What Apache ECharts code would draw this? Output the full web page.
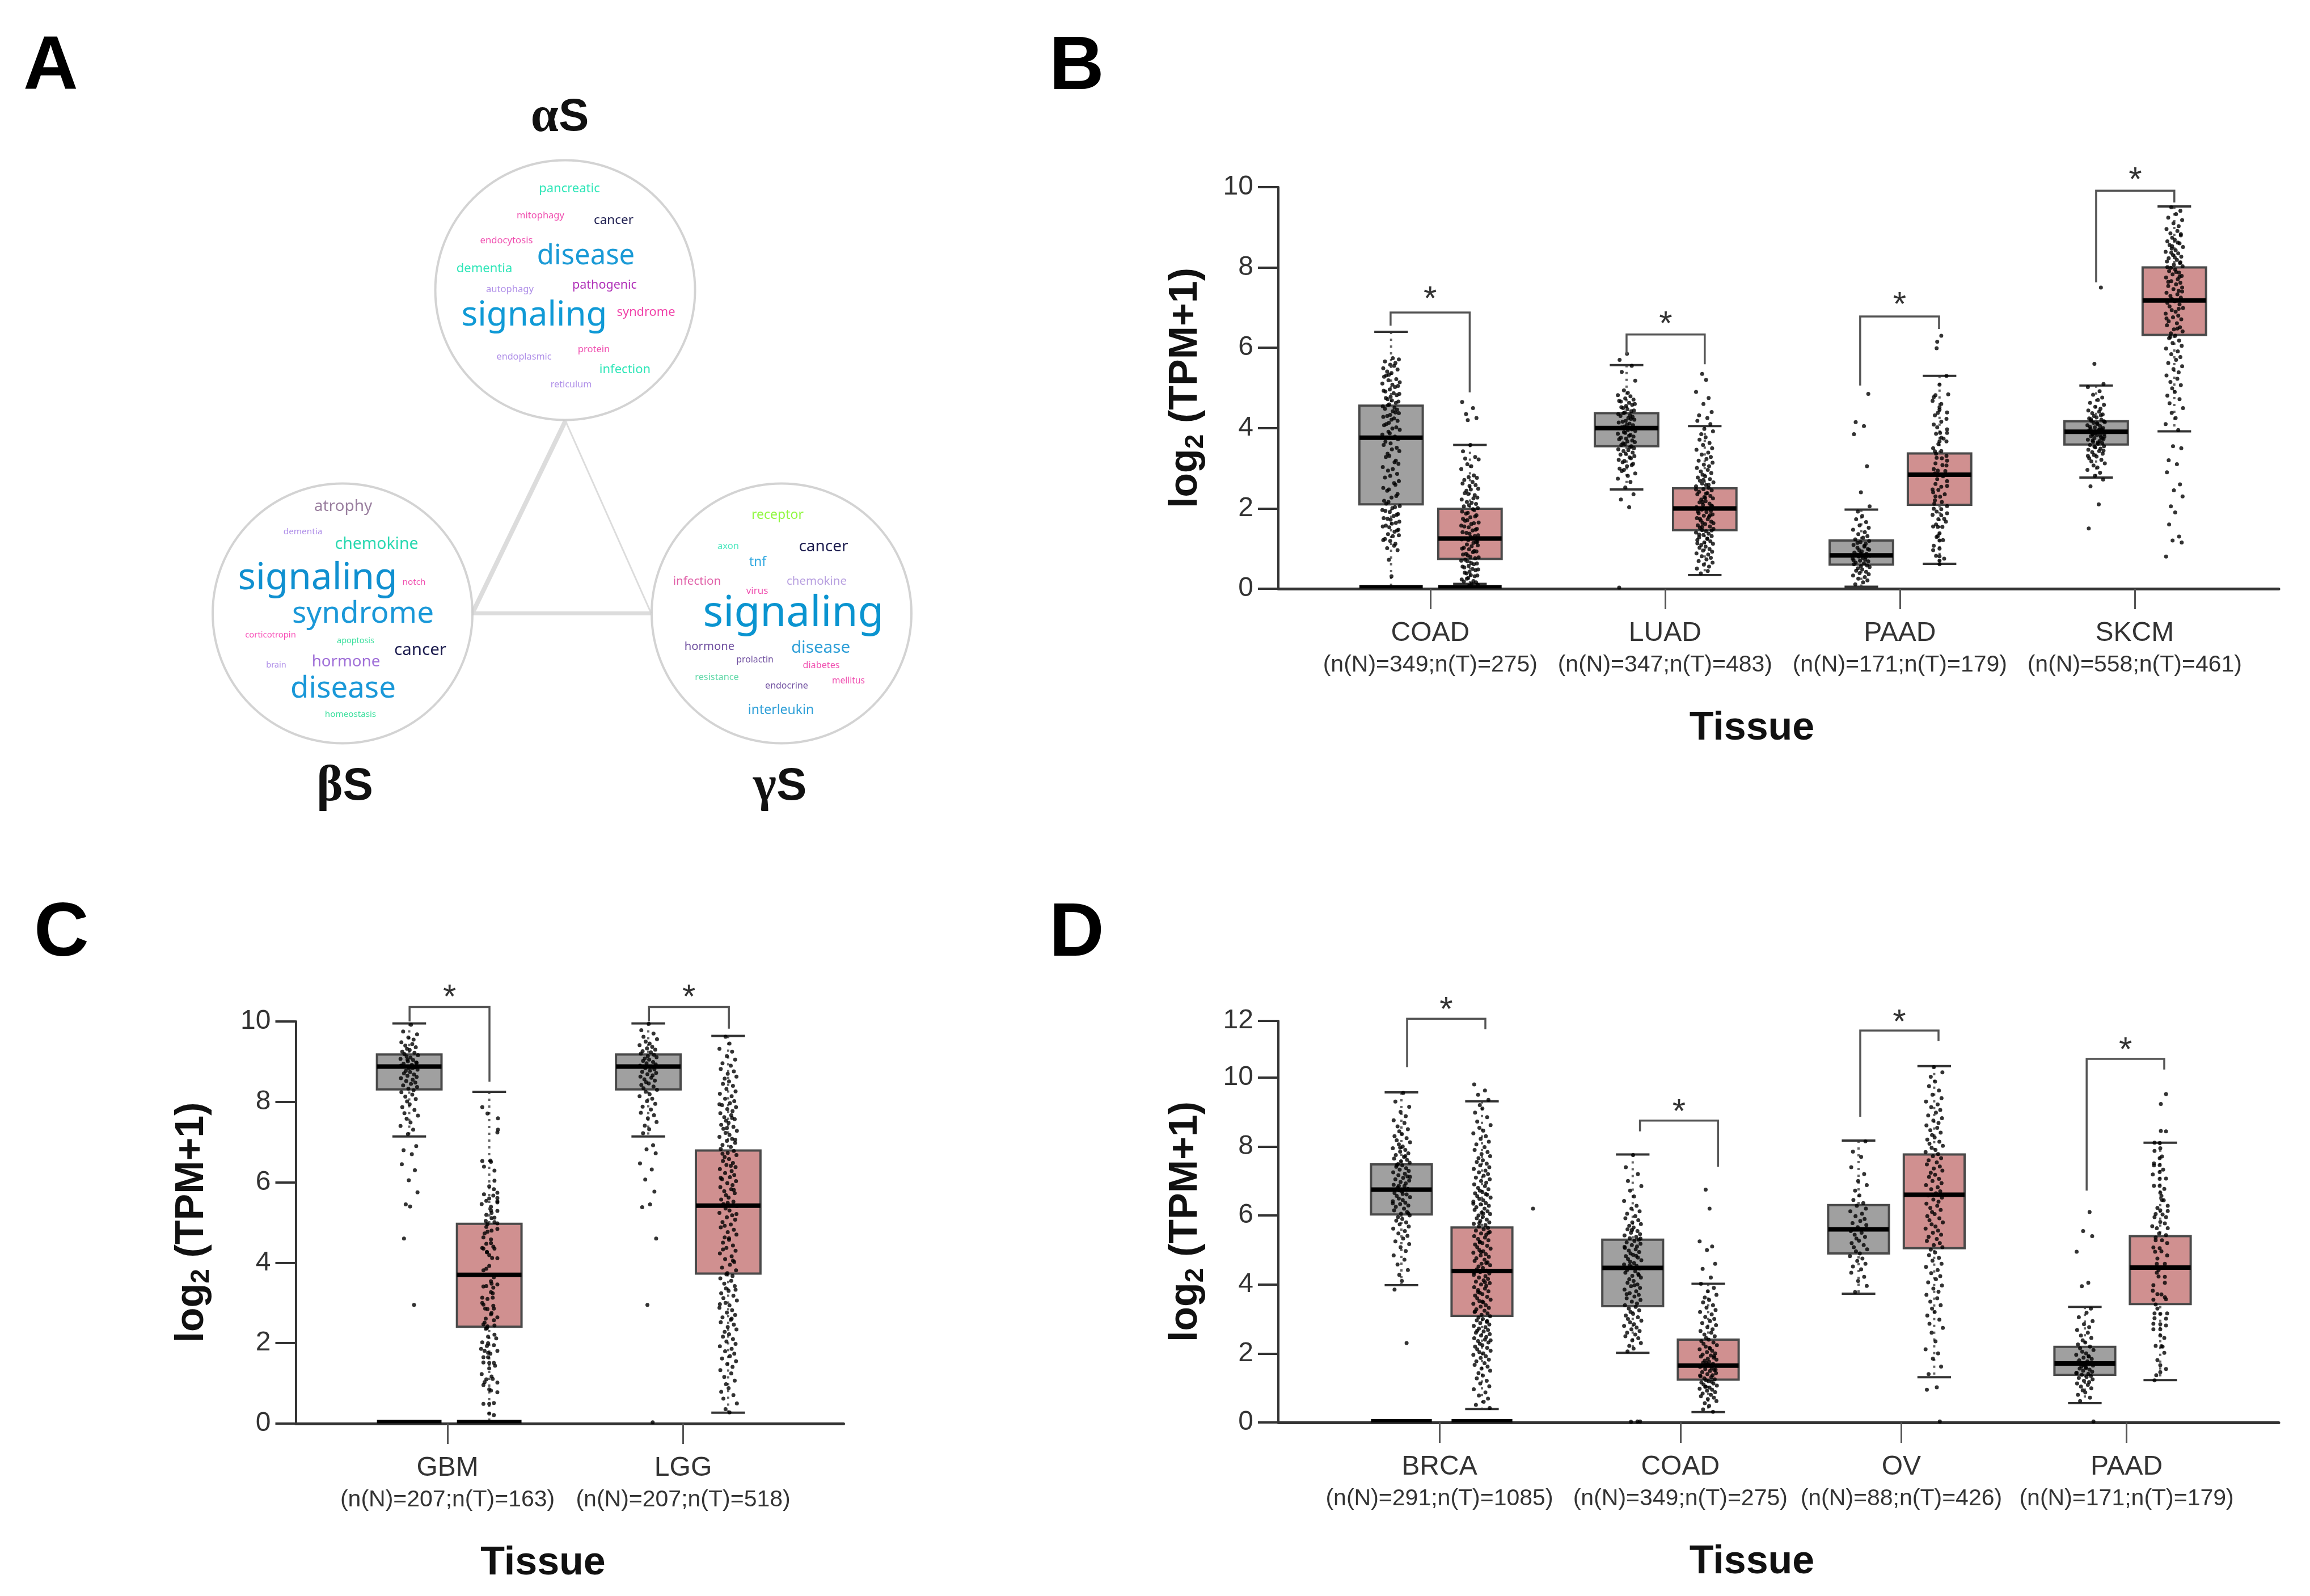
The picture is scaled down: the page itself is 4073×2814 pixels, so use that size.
<!DOCTYPE html>
<html>
<head>
<meta charset="utf-8">
<title>Synuclein panels</title>
<script src="https://cdn.jsdelivr.net/npm/echarts@6/dist/echarts.min.js"></script>
<style>
  html, body { margin: 0; padding: 0; background: #fff; }
  #chart { width: 4073px; height: 2814px; }
</style>
</head>
<body>
<div id="chart"></div>
<script>
const bTissues = ["COAD", "LUAD", "PAAD", "SKCM"];
const bCounts = ["(n(N)=349;n(T)=275)", "(n(N)=347;n(T)=483)", "(n(N)=171;n(T)=179)", "(n(N)=558;n(T)=461)"];
const cTissues = ["GBM", "LGG"];
const cCounts = ["(n(N)=207;n(T)=163)", "(n(N)=207;n(T)=518)"];
const dTissues = ["BRCA", "COAD", "OV", "PAAD"];
const dCounts = ["(n(N)=291;n(T)=1085)", "(n(N)=349;n(T)=275)", "(n(N)=88;n(T)=426)", "(n(N)=171;n(T)=179)"];

// slot positions on the x scale: tissue ticks, then normal/tumour box centres
const bTicks = [1, 2, 3, 4];
const bBoxPos = [0.833, 1.169, 1.836, 2.169, 2.836, 3.169, 3.836, 4.169];
const cTicks = [1, 2];
const cBoxPos = [0.8375, 1.177, 1.852, 2.191];
const dTicks = [1, 2.062, 3.036, 4.029];
const dBoxPos = [0.8325, 1.1875, 1.852, 2.185, 2.8475, 3.181, 3.845, 4.1775];

// low, q1, median, q3, up
const bStats = [
  [0.05, 2.1, 3.76, 4.56, 6.4], [0.12, 0.74, 1.25, 1.99, 3.58],
  [2.47, 3.55, 4.0, 4.37, 5.57], [0.34, 1.46, 2.0, 2.5, 4.05],
  [0.05, 0.6, 0.83, 1.2, 1.97], [0.62, 2.09, 2.84, 3.37, 5.3],
  [2.77, 3.59, 3.91, 4.17, 5.06], [3.92, 6.32, 7.18, 8.0, 9.52]
];
const cStats = [
  [7.14, 8.31, 8.88, 9.18, 9.95], [0.05, 2.41, 3.7, 4.97, 8.25],
  [7.14, 8.31, 8.88, 9.18, 9.95], [0.27, 3.73, 5.42, 6.79, 9.64]
];
const dStats = [
  [3.98, 6.03, 6.75, 7.48, 9.57], [0.39, 3.09, 4.39, 5.65, 9.31],
  [2.02, 3.37, 4.48, 5.3, 7.77], [0.3, 1.24, 1.65, 2.4, 4.02],
  [3.73, 4.9, 5.6, 6.3, 8.17], [1.31, 5.05, 6.6, 7.77, 10.33],
  [0.56, 1.38, 1.71, 2.19, 3.35], [1.23, 3.43, 4.49, 5.4, 8.11]
];

// boxes that also carry a solid bar of zero-expression samples
const bZeroBars = [0.833, 1.169];
const cZeroBars = [0.8375, 1.177];
const dZeroBars = [0.8325, 1.1875];

// xLeft, xRight, yTop, yLeftEnd, yRightEnd, yStar
const bBrackets = [
  [0.831, 1.168, 6.88, 6.55, 4.89, 7.38],
  [1.836, 2.169, 6.33, 5.84, 5.59, 6.76],
  [2.831, 3.167, 6.78, 5.06, 6.47, 7.24],
  [3.836, 4.169, 9.91, 7.63, 9.62, 10.34]
];
const cBrackets = [
  [0.839, 1.178, 10.36, 10.0, 8.5, 10.77],
  [1.855, 2.194, 10.36, 10.0, 9.82, 10.77]
];
const dBrackets = [
  [0.8575, 1.2025, 11.7, 10.3, 11.4, 12.16],
  [1.884, 2.228, 8.75, 8.44, 7.41, 9.2],
  [2.855, 3.2, 11.36, 8.86, 11.06, 11.79],
  [3.853, 4.195, 10.54, 6.72, 10.23, 10.99]
];

// sample dots, normal then tumour. Plain numbers: merged strips, density estimates
// that take their sideways place from jitter. Pairs [side, value]: dots read one by one,
// side runs -15..15 across the strip
const bCoadN = [5.74, 5.66, 5.71, 5.58, 5.62, 5.49, 5.55, 5.41, 5.46, 5.33, 5.37, 5.28, 5.22, 5.31, 5.14, 5.19, 5.08, 5.11, 5.02, 4.96, 5.05, 4.91, 4.87, 4.93, 4.82, 4.78, 4.85, 4.72, 4.69, 4.75, 4.63, 4.59, 4.66, 4.54, 4.51, 4.57, 4.46, 4.42, 4.48, 4.37, 4.33, 4.39, 4.28, 4.24, 4.3, 4.18, 4.13, 4.21, 4.07, 4.02, 4.1, 3.96, 3.91, 3.99, 3.84, 3.79, 3.87, 3.72, 3.66, 3.75, 3.58, 3.51, 3.62, 3.43, 3.36, 3.47, 3.28, 3.19, 3.31, 3.11, 3.03, 3.15, 2.94, 2.86, 2.98, 2.77, 2.68, 2.81, 2.59, 2.51, 2.63, 2.44, 2.36, 2.47, 2.27, 2.19, 2.31, 2.12, 2.06, 2.16, 2.01, 1.96, 2.03, 1.91, 1.86, 1.94, 1.81, 1.76, 1.84, 1.72, 1.67, 1.74, 1.62, 1.57, 1.64, 1.53, 1.47, 1.55, 1.42, 1.36, 1.45, 1.31, 1.24, 1.33, 1.19, 1.12, 1.21, 1.07, 1.01, 0.96, 0.72, 0.31];
const bCoadT = [4.65, 4.5, 4.35, 4.25, 4.2, 3.58, 3.42, 3.28, 3.24, 3.22, 3.1, 3.05, 2.98, 2.82, 2.78, 2.76, 2.71, 2.66, 2.62, 2.58, 2.56, 2.49, 2.44, 2.47, 2.38, 2.33, 2.36, 2.27, 2.22, 2.25, 2.16, 2.11, 2.14, 2.05, 2.01, 2.08, 1.96, 1.92, 1.98, 1.87, 1.83, 1.89, 1.78, 1.74, 1.8, 1.69, 1.65, 1.71, 1.61, 1.57, 1.63, 1.53, 1.49, 1.55, 1.45, 1.41, 1.47, 1.37, 1.33, 1.39, 1.29, 1.25, 1.31, 1.21, 1.17, 1.23, 1.14, 1.1, 1.16, 1.06, 1.02, 1.08, 0.98, 0.94, 1.0, 0.91, 0.87, 0.93, 0.83, 0.79, 0.85, 0.76, 0.72, 0.78, 0.68, 0.64, 0.7, 0.61, 0.57, 0.63, 0.53, 0.49, 0.55, 0.46, 0.42, 0.48, 0.38, 0.34, 0.4, 0.31, 0.27, 0.33, 0.23, 0.19, 0.25, 0.16, 0.13, 0.18, 0.1, 0.07];
const bLuadN = [5.85, 5.7, 5.55, 5.4, 5.18, 4.94, 4.88, 4.82, 4.79, 4.74, 4.71, 4.66, 4.63, 4.68, 4.58, 4.55, 4.6, 4.5, 4.47, 4.52, 4.42, 4.39, 4.44, 4.35, 4.32, 4.37, 4.28, 4.25, 4.3, 4.21, 4.18, 4.23, 4.14, 4.11, 4.16, 4.07, 4.04, 4.09, 4.0, 3.97, 4.02, 3.93, 3.9, 3.95, 3.86, 3.83, 3.88, 3.79, 3.76, 3.81, 3.72, 3.69, 3.74, 3.65, 3.62, 3.67, 3.58, 3.55, 3.6, 3.5, 3.47, 3.52, 3.43, 3.39, 3.45, 3.34, 3.3, 3.36, 3.25, 3.21, 3.27, 3.15, 3.11, 3.18, 3.05, 2.99, 3.08, 2.93, 2.87, 2.96, 2.81, 2.74, 2.66, 2.52, 2.35, 2.22, 2.03, 0.03];
const bLuadT = [5.35, 5.2, 4.9, 4.75, 4.6, 4.4, 4.32, 4.25, 4.18, 4.1, 3.98, 3.92, 3.85, 3.77, 3.71, 3.63, 3.58, 3.5, 3.46, 3.39, 3.34, 3.28, 3.23, 3.19, 3.14, 3.09, 3.05, 3.01, 2.96, 2.92, 2.88, 2.84, 2.8, 2.77, 2.73, 2.69, 2.65, 2.62, 2.58, 2.55, 2.51, 2.48, 2.45, 2.41, 2.38, 2.35, 2.31, 2.28, 2.25, 2.22, 2.18, 2.15, 2.12, 2.09, 2.06, 2.03, 2.0, 1.97, 1.94, 1.91, 1.88, 1.85, 1.82, 1.79, 1.76, 1.73, 1.7, 1.67, 1.64, 1.61, 1.58, 1.55, 1.52, 1.49, 1.46, 1.43, 1.4, 1.37, 1.34, 1.31, 1.28, 1.25, 1.21, 1.18, 1.15, 1.12, 1.09, 1.05, 1.02, 0.99, 0.95, 0.92, 0.88, 0.85, 0.81, 0.77, 0.73, 0.69, 0.65, 0.6, 0.55, 0.5, 0.44, 0.38, 2.07, 2.16, 2.26, 1.92, 1.83, 1.74, 1.63, 1.54, 2.37, 2.47, 2.59, 2.71, 1.45, 1.35, 1.24, 1.13];
const bPaadN = [4.85, 4.15, 4.05, 3.85, 3.05, 2.4, 2.05, 1.92, 1.81, 1.73, 1.66, 1.58, 1.52, 1.47, 1.41, 1.36, 1.31, 1.27, 1.23, 1.19, 1.16, 1.12, 1.09, 1.05, 1.02, 0.99, 0.96, 0.93, 0.9, 0.87, 0.85, 0.82, 0.8, 0.77, 0.75, 0.72, 0.7, 0.68, 0.65, 0.63, 0.61, 0.58, 0.56, 0.54, 0.51, 0.48, 0.45, 0.42, 0.39, 0.36, 0.33, 0.29, 0.25, 0.21, 0.16, 0.11, 0.97, 0.88, 0.79, 0.71, 1.07, 1.14];
const bPaadT = [[3, 6.3], [-4, 6.15], [-5, 5.99], [12, 5.3], [0, 5.08], [15, 4.84], [-7, 4.82], [-10, 4.77], [-12, 4.68], [3, 4.6], [0, 4.52], [0, 4.46], [13, 4.39], [-3, 4.38], [-8, 4.32], [12, 4.23], [3, 4.16], [-10, 4.09], [-4, 4.02], [13, 3.97], [13, 3.88], [-6, 3.86], [1, 3.88], [3, 3.76], [7, 3.74], [12, 3.67], [0, 3.67], [-2, 3.6], [-11, 3.5], [3, 3.43], [-8, 3.42], [-6, 3.36], [12, 3.31], [-5, 3.26], [4, 3.25], [13, 3.19], [-7, 3.12], [5, 3.08], [12, 3.07], [-10, 2.98], [-3, 2.94], [10, 2.93], [-8, 2.87], [6, 2.8], [-4, 2.73], [13, 2.68], [-7, 2.61], [13, 2.56], [3, 2.54], [-12, 2.47], [-2, 2.46], [-11, 2.4], [9, 2.35], [-7, 2.3], [1, 2.29], [-8, 2.2], [4, 2.16], [-9, 2.12], [13, 2.06], [-10, 1.99], [3, 1.98], [-5, 1.92], [13, 1.88], [-12, 1.84], [3, 1.83], [8, 1.74], [-2, 1.73], [11, 1.67], [-6, 1.6], [-11, 1.55], [-3, 1.54], [5, 1.54], [0, 1.38], [-3, 1.31], [-5, 1.29], [6, 1.21], [0, 1.2], [-10, 1.07], [0, 1.0], [-11, 0.96], [-6, 0.82], [0, 0.81], [8, 0.75], [0, 0.7], [0, 0.61]];
const bSkcmN = [7.5, 5.6, 5.1, 5.02, 4.92, 4.83, 4.76, 4.7, 4.63, 4.58, 4.53, 4.48, 4.44, 4.41, 4.37, 4.34, 4.3, 4.27, 4.24, 4.21, 4.18, 4.15, 4.13, 4.1, 4.07, 4.05, 4.02, 4.0, 3.98, 3.95, 3.93, 3.91, 3.89, 3.86, 3.84, 3.82, 3.8, 3.77, 3.75, 3.73, 3.71, 3.68, 3.66, 3.63, 3.61, 3.58, 3.55, 3.52, 3.49, 3.46, 3.43, 3.4, 3.36, 3.33, 3.29, 3.25, 3.21, 3.17, 3.12, 3.07, 3.02, 2.96, 2.89, 2.81, 2.72, 2.55, 2.1, 1.5, 3.97, 3.88, 3.79, 3.69, 4.12, 4.22, 4.32, 3.54, 3.44, 3.31, 3.96, 3.85, 3.74, 3.64, 4.03, 4.17, 3.92, 3.83];
const bSkcmT = [9.5, 9.41, 9.33, 9.24, 9.18, 9.1, 9.03, 8.96, 8.91, 8.85, 8.8, 8.74, 8.69, 8.65, 8.6, 8.56, 8.51, 8.47, 8.43, 8.39, 8.35, 8.31, 8.27, 8.23, 8.19, 8.15, 8.11, 8.07, 8.03, 7.99, 7.95, 7.91, 7.87, 7.83, 7.79, 7.75, 7.71, 7.66, 7.62, 7.58, 7.54, 7.5, 7.46, 7.42, 7.37, 7.33, 7.29, 7.25, 7.21, 7.16, 7.12, 7.08, 7.03, 6.99, 6.94, 6.9, 6.85, 6.8, 6.76, 6.71, 6.66, 6.61, 6.56, 6.51, 6.46, 6.41, 6.36, 6.3, 6.24, 6.18, 6.12, 6.05, 5.98, 5.91, 5.84, 5.77, 5.7, 5.62, 5.54, 5.47, 5.39, 5.31, 5.23, 5.15, 5.07, 4.99, 4.9, 4.81, 4.72, 4.62, 4.5, 4.38, 4.25, 4.1, 3.95, 3.55, 3.5, 3.2, 3.1, 2.9, 2.6, 2.45, 2.3, 2.05, 1.9, 1.6, 1.3, 1.2, 1.15, 0.8, 8.62, 8.37, 8.13, 7.89, 7.64, 7.4, 7.18, 6.97, 6.73, 6.48, 6.27, 8.83, 8.53, 8.25, 8.01, 7.77];

const cGbmN = [9.92, 9.75, 9.68, 9.6, 9.55, 9.48, 9.44, 9.4, 9.36, 9.32, 9.29, 9.25, 9.22, 9.19, 9.16, 9.13, 9.1, 9.07, 9.04, 9.01, 8.98, 8.95, 8.92, 8.89, 8.86, 8.83, 8.8, 8.77, 8.74, 8.71, 8.68, 8.65, 8.62, 8.59, 8.55, 8.52, 8.48, 8.45, 8.41, 8.37, 8.33, 8.29, 8.24, 8.18, 8.13, 8.07, 8.01, 7.94, 7.87, 7.8, 7.72, 7.66, 7.58, 7.49, 7.4, 7.31, 7.2, 6.9, 6.8, 6.7, 6.45, 6.3, 6.05, 5.75, 5.45, 5.4, 4.6, 2.95, 9.05, 8.97, 8.9, 8.84];
const cGbmT = [[-12, 7.87], [-3, 7.71], [15, 7.59], [15, 7.31], [14, 7.24], [-12, 6.53], [2, 6.54], [3, 6.51], [-9, 6.39], [9, 6.29], [9, 6.04], [0, 5.9], [8, 5.83], [14, 5.74], [-9, 5.7], [7, 5.67], [0, 5.6], [-5, 5.54], [14, 5.61], [14, 5.53], [-13, 5.46], [14, 5.5], [3, 5.39], [3, 5.3], [14, 5.29], [-5, 5.19], [4, 5.24], [9, 5.12], [4, 5.11], [-6, 5.04], [9, 5.01], [-3, 4.96], [14, 4.98], [-5, 4.89], [14, 4.84], [4, 4.8], [-3, 4.77], [-8, 4.73], [-10, 4.63], [3, 4.58], [3, 4.49], [-5, 4.47], [7, 4.4], [-12, 4.37], [9, 4.35], [-4, 4.27], [-10, 4.35], [-4, 4.26], [0, 4.19], [5, 4.12], [14, 4.11], [0, 3.92], [-5, 3.85], [-10, 3.81], [8, 3.64], [3, 3.54], [4, 3.48], [14, 3.46], [-10, 3.41], [-5, 3.42], [7, 3.38], [3, 3.27], [6, 3.24], [-12, 3.13], [6, 3.13], [-3, 3.1], [-12, 3.0], [-10, 2.96], [7, 2.93], [-7, 2.86], [8, 2.86], [-3, 2.85], [4, 2.75], [3, 2.72], [14, 2.64], [-6, 2.61], [8, 2.57], [-8, 2.51], [-10, 2.47], [9, 2.44], [-3, 2.42], [-4, 2.37], [-6, 2.36], [9, 2.21], [-2, 2.16], [12, 2.12], [-12, 2.02], [-2, 2.0], [8, 1.95], [-4, 1.93], [-14, 1.86], [-8, 1.81], [14, 1.81], [-2, 1.76], [2, 1.74], [-10, 1.65], [-2, 1.65], [-10, 1.52], [0, 1.51], [8, 1.51], [10, 1.44], [0, 1.37], [-13, 1.23], [4, 1.17], [-5, 1.1], [6, 1.11], [14, 1.02], [-8, 1.03], [-10, 0.96], [0, 0.85], [3, 0.82], [14, 0.78], [-10, 0.49], [0, 0.49], [8, 0.51], [0, 0.25], [8, 0.21]];
const cLggN = [9.94, 9.78, 9.7, 9.62, 9.56, 9.5, 9.45, 9.41, 9.37, 9.33, 9.3, 9.26, 9.23, 9.2, 9.17, 9.14, 9.11, 9.08, 9.05, 9.02, 8.99, 8.96, 8.93, 8.9, 8.87, 8.84, 8.81, 8.78, 8.75, 8.72, 8.69, 8.66, 8.63, 8.6, 8.56, 8.53, 8.49, 8.46, 8.42, 8.38, 8.34, 8.3, 8.25, 8.19, 8.14, 8.08, 8.02, 7.95, 7.88, 7.81, 7.73, 7.67, 7.59, 7.5, 7.41, 7.32, 7.22, 6.92, 6.82, 6.72, 6.47, 6.32, 6.07, 5.77, 5.45, 5.38, 4.6, 2.95, 0.03];
const cLggT = [9.62, 9.45, 9.32, 9.25, 9.14, 9.05, 8.96, 8.9, 8.82, 8.76, 8.7, 8.63, 8.58, 8.51, 8.45, 8.4, 8.32, 8.26, 8.2, 8.14, 8.08, 8.02, 7.97, 7.92, 7.87, 7.82, 7.77, 7.72, 7.67, 7.62, 7.57, 7.53, 7.48, 7.43, 7.38, 7.33, 7.28, 7.23, 7.18, 7.13, 7.08, 7.03, 6.98, 6.93, 6.88, 6.83, 6.78, 6.73, 6.68, 6.63, 6.58, 6.53, 6.48, 6.43, 6.38, 6.33, 6.28, 6.23, 6.18, 6.13, 6.08, 6.03, 5.98, 5.93, 5.88, 5.83, 5.78, 5.73, 5.68, 5.62, 5.57, 5.52, 5.46, 5.41, 5.35, 5.3, 5.24, 5.18, 5.13, 5.07, 5.01, 4.95, 4.88, 4.82, 4.76, 4.7, 4.63, 4.57, 4.5, 4.43, 4.37, 4.3, 4.23, 4.16, 4.09, 4.02, 3.95, 3.88, 3.81, 3.74, 3.67, 3.61, 3.55, 3.48, 3.42, 3.36, 3.3, 3.24, 3.18, 3.12, 3.06, 3.0, 2.94, 2.88, 2.82, 2.76, 2.7, 2.64, 2.58, 2.52, 2.46, 2.4, 2.34, 2.28, 2.22, 2.16, 2.1, 2.04, 1.98, 1.92, 1.86, 1.8, 1.74, 1.68, 1.62, 1.55, 1.48, 1.41, 1.33, 1.25, 1.16, 1.07, 0.98, 0.88, 0.79, 0.71, 0.62, 0.5, 0.36, 0.28, 7.94, 7.6, 7.35, 7.06, 6.71, 6.41, 6.11, 5.81, 5.49, 5.21, 4.92, 4.61, 4.33, 4.05, 3.71, 3.33, 2.97, 2.61];

const dBrcaN = [9.55, 9.3, 9.15, 9.0, 8.88, 8.76, 8.68, 8.58, 8.5, 8.44, 8.36, 8.3, 8.24, 8.18, 8.12, 8.06, 8.0, 7.95, 7.9, 7.85, 7.8, 7.75, 7.7, 7.65, 7.61, 7.57, 7.53, 7.49, 7.45, 7.41, 7.37, 7.33, 7.29, 7.25, 7.21, 7.17, 7.13, 7.09, 7.05, 7.01, 6.97, 6.93, 6.89, 6.85, 6.81, 6.77, 6.73, 6.69, 6.65, 6.61, 6.57, 6.53, 6.49, 6.45, 6.41, 6.37, 6.33, 6.29, 6.25, 6.2, 6.15, 6.1, 6.05, 6.0, 5.95, 5.9, 5.85, 5.8, 5.74, 5.68, 5.62, 5.55, 5.48, 5.41, 5.33, 5.25, 5.17, 5.08, 4.97, 4.84, 4.72, 4.58, 4.42, 4.28, 4.1, 3.85, 2.3, 7.46, 7.12, 6.86, 6.62, 6.35, 7.72, 7.97, 6.06];
const dBrcaT = [9.8, 9.62, 9.5, 9.35, 9.2, 9.1, 8.98, 8.85, 8.72, 8.62, 8.54, 8.46, 8.38, 8.3, 8.22, 8.14, 8.06, 7.98, 7.9, 7.84, 7.78, 7.72, 7.66, 7.6, 7.55, 7.5, 7.45, 7.4, 7.35, 7.3, 7.25, 7.2, 7.15, 7.1, 7.05, 7.0, 6.95, 6.9, 6.85, 6.8, 6.76, 6.72, 6.68, 6.64, 6.6, 6.56, 6.52, 6.48, 6.44, 6.4, 6.36, 6.32, 6.28, 6.24, 6.2, 6.16, 6.12, 6.08, 6.04, 6.0, 5.96, 5.92, 5.88, 5.84, 5.8, 5.76, 5.72, 5.68, 5.64, 5.6, 5.56, 5.52, 5.48, 5.44, 5.4, 5.36, 5.32, 5.28, 5.24, 5.2, 5.16, 5.12, 5.08, 5.04, 5.0, 4.96, 4.92, 4.88, 4.84, 4.8, 4.76, 4.72, 4.68, 4.64, 4.6, 4.56, 4.52, 4.48, 4.44, 4.4, 4.36, 4.32, 4.28, 4.24, 4.2, 4.16, 4.12, 4.08, 4.04, 4.0, 3.96, 3.92, 3.88, 3.84, 3.8, 3.76, 3.72, 3.68, 3.64, 3.6, 3.56, 3.52, 3.48, 3.44, 3.4, 3.36, 3.32, 3.28, 3.24, 3.2, 3.16, 3.12, 3.08, 3.04, 3.0, 2.96, 2.92, 2.88, 2.84, 2.8, 2.76, 2.72, 2.68, 2.64, 2.6, 2.56, 2.52, 2.48, 2.44, 2.4, 2.36, 2.32, 2.28, 2.24, 2.2, 2.16, 2.12, 2.08, 2.04, 2.0, 1.96, 1.92, 1.87, 1.82, 1.77, 1.72, 1.67, 1.62, 1.56, 1.5, 1.43, 1.36, 1.28, 1.21, 1.13, 1.05, 0.96, 0.87, 0.78, 0.69, 0.6, 0.51, 0.42, 4.94, 4.62, 4.34, 4.06, 3.78, 5.5, 5.22, 3.5, 3.22, 2.94, 2.66, 2.38, 5.78, 6.06, 6.34, 6.62];
const dCoadN = [7.75, 7.4, 7.2, 7.0, 6.85, 6.72, 6.55, 6.42, 6.28, 6.2, 6.12, 6.05, 5.98, 5.92, 5.86, 5.8, 5.75, 5.7, 5.65, 5.6, 5.55, 5.5, 5.46, 5.42, 5.38, 5.34, 5.3, 5.26, 5.22, 5.18, 5.14, 5.1, 5.06, 5.02, 4.98, 4.94, 4.9, 4.86, 4.82, 4.78, 4.74, 4.7, 4.66, 4.62, 4.58, 4.54, 4.5, 4.46, 4.42, 4.38, 4.34, 4.3, 4.25, 4.2, 4.15, 4.1, 4.05, 4.0, 3.95, 3.9, 3.85, 3.8, 3.75, 3.7, 3.65, 3.6, 3.55, 3.5, 3.45, 3.4, 3.35, 3.3, 3.25, 3.2, 3.15, 3.1, 3.05, 3.0, 2.95, 2.9, 2.85, 2.8, 2.75, 2.7, 2.65, 2.6, 2.55, 2.5, 2.44, 2.38, 2.3, 2.22, 2.14, 2.06, 0.03, 0.02, 0.03, 5.09, 4.83, 4.56, 4.27, 3.98, 3.72, 5.33, 5.58];
const dCoadT = [6.75, 6.2, 5.25, 5.1, 5.0, 4.6, 4.45, 4.2, 4.02, 3.9, 3.8, 3.7, 3.62, 3.55, 3.48, 3.4, 3.33, 3.26, 3.2, 3.13, 3.06, 3.0, 2.94, 2.88, 2.82, 2.76, 2.7, 2.65, 2.6, 2.55, 2.5, 2.45, 2.4, 2.36, 2.32, 2.28, 2.24, 2.2, 2.16, 2.12, 2.08, 2.04, 2.0, 1.97, 1.94, 1.91, 1.88, 1.85, 1.82, 1.79, 1.76, 1.73, 1.7, 1.67, 1.64, 1.61, 1.58, 1.55, 1.52, 1.49, 1.46, 1.43, 1.4, 1.37, 1.34, 1.31, 1.28, 1.25, 1.22, 1.19, 1.16, 1.13, 1.1, 1.07, 1.04, 1.01, 0.98, 0.95, 0.92, 0.88, 0.84, 0.8, 0.76, 0.72, 0.68, 0.62, 0.56, 0.48, 0.38, 0.31, 1.72, 1.53, 1.36, 1.18, 1.03, 1.92, 2.14];
const dOvN = [8.15, 7.85, 7.7, 7.4, 7.2, 7.0, 6.88, 6.72, 6.58, 6.45, 6.36, 6.28, 6.2, 6.12, 6.05, 5.98, 5.9, 5.84, 5.78, 5.72, 5.66, 5.6, 5.55, 5.5, 5.44, 5.38, 5.33, 5.27, 5.2, 5.14, 5.08, 5.02, 4.96, 4.9, 4.82, 4.75, 4.68, 4.6, 4.52, 4.44, 4.34, 4.22, 4.1, 3.96, 3.78];
const dOvT = [10.3, 10.15, 10.02, 9.88, 9.75, 9.62, 9.5, 9.4, 9.3, 9.22, 9.14, 9.06, 8.98, 8.9, 8.82, 8.75, 8.68, 8.61, 8.54, 8.47, 8.4, 8.33, 8.26, 8.2, 8.14, 8.08, 8.02, 7.96, 7.9, 7.84, 7.78, 7.72, 7.66, 7.6, 7.54, 7.48, 7.42, 7.36, 7.3, 7.24, 7.18, 7.12, 7.06, 7.0, 6.94, 6.88, 6.82, 6.76, 6.7, 6.64, 6.58, 6.52, 6.46, 6.4, 6.34, 6.28, 6.22, 6.16, 6.1, 6.04, 5.98, 5.92, 5.86, 5.8, 5.74, 5.68, 5.62, 5.56, 5.5, 5.44, 5.38, 5.32, 5.26, 5.2, 5.14, 5.08, 5.01, 4.93, 4.85, 4.77, 4.69, 4.6, 4.51, 4.42, 4.33, 4.24, 4.15, 4.06, 3.97, 3.88, 3.79, 3.7, 3.6, 3.5, 3.4, 3.3, 3.2, 3.1, 2.98, 2.86, 2.74, 2.6, 2.35, 2.12, 2.0, 1.85, 1.62, 1.4, 1.02, 0.95, 0.03];
const dPaadN = [6.1, 5.55, 5.4, 4.95, 4.05, 3.95, 3.3, 3.18, 3.05, 2.94, 2.85, 2.76, 2.68, 2.6, 2.52, 2.45, 2.38, 2.32, 2.26, 2.2, 2.15, 2.1, 2.05, 2.0, 1.96, 1.92, 1.88, 1.84, 1.8, 1.77, 1.74, 1.71, 1.68, 1.65, 1.62, 1.59, 1.56, 1.53, 1.5, 1.47, 1.44, 1.41, 1.38, 1.35, 1.32, 1.29, 1.25, 1.21, 1.17, 1.13, 1.09, 1.04, 0.99, 0.93, 0.87, 0.8, 0.72, 0.62, 0.03, 1.72, 1.58, 1.43, 1.91, 1.67];
const dPaadT = [[10, 9.52], [1, 9.23], [1, 8.45], [10, 8.44], [-10, 8.11], [-1, 8.1], [0, 7.95], [-10, 7.87], [3, 7.71], [-1, 7.66], [-11, 7.51], [-11, 7.45], [-1, 7.46], [5, 7.33], [-1, 7.26], [-13, 7.19], [10, 7.07], [-1, 7.06], [-11, 6.86], [-1, 6.86], [7, 6.77], [0, 6.66], [2, 6.57], [3, 6.45], [6, 6.44], [13, 6.28], [-5, 6.22], [13, 6.13], [0, 6.15], [-8, 6.04], [4, 6.03], [10, 5.95], [-10, 5.95], [0, 5.81], [8, 5.77], [-14, 5.69], [-6, 5.63], [13, 5.63], [-2, 5.48], [10, 5.43], [-8, 5.36], [-8, 5.28], [3, 5.28], [12, 5.2], [-12, 5.07], [-1, 5.05], [-9, 4.95], [2, 4.96], [12, 4.84], [-5, 4.75], [-6, 4.6], [8, 4.6], [-3, 4.42], [-6, 4.34], [-3, 4.23], [8, 4.22], [-12, 3.98], [8, 4.05], [-13, 3.82], [-5, 3.72], [2, 3.71], [8, 3.63], [10, 3.57], [-12, 3.56], [-8, 3.42], [-5, 3.3], [-10, 3.16], [12, 3.16], [0, 3.15], [10, 3.01], [-10, 3.02], [-12, 2.86], [0, 2.85], [10, 2.81], [-12, 2.7], [0, 2.7], [0, 2.52], [7, 2.45], [-8, 2.22], [2, 2.21], [4, 2.2], [7, 2.02], [-5, 1.81], [0, 1.66], [10, 1.55], [0, 1.46], [-7, 1.37], [-10, 1.22]];
const bDots = [bCoadN, bCoadT, bLuadN, bLuadT, bPaadN, bPaadT, bSkcmN, bSkcmT];
const cDots = [cGbmN, cGbmT, cLggN, cLggT];
const dDots = [dBrcaN, dBrcaT, dCoadN, dCoadT, dOvN, dOvT, dPaadN, dPaadT];
// the one sample that sits well off its strip, panel D BRCA tumour
const dFarDot = [[1.4125, 6.2]];
// sideways scatter of the merged-strip dots, as a share of the strip half-width
const jitter = [0.2, -0.7, 0.9, -0.1, 0.5, -0.9, 0.35, -0.45, 0.75, -0.25, 0.05, -0.8, 0.6, -0.55, 1, -0.3, 0.15, -1, 0.45, -0.15, 0.8, -0.65, 0.3, -0.85, 0.65, -0.05, 0.95, -0.4, 0.1, -0.6, 0.55, -0.2, 0.85, -0.95, 0.4, -0.35, 0.7];

const alphaWords = [
  ["pancreatic", 1004, 333, 22, "#2fe6b8"], ["mitophagy", 953, 380, 16.5, "#f050b0"], ["cancer", 1082, 389, 22.5, "#1e1e50"],
  ["endocytosis", 893, 424, 16.7, "#f050b0"], ["disease", 1033, 452, 49, "#1a9ad6"], ["dementia", 854, 474, 22, "#2fe6b8"],
  ["autophagy", 899, 510, 16.6, "#b090e8"], ["pathogenic", 1066, 503, 21.5, "#b030b8"], ["signaling", 942, 557, 60, "#109ad6"],
  ["syndrome", 1139, 551, 21.8, "#f040a8"], ["protein", 1047, 616, 16.6, "#f050b0"], ["endoplasmic", 924, 629, 16.2, "#b090e8"],
  ["infection", 1102, 652, 22, "#2fe6b8"], ["reticulum", 1007, 678, 16.2, "#b090e8"]
];
const betaWords = [
  ["atrophy", 605, 893, 28, "#9a7f9f"], ["dementia", 534, 938, 15.3, "#b090e8"], ["chemokine", 664, 960, 28.4, "#28d8b0"],
  ["signaling", 560, 1020, 65.7, "#1090d0"], ["notch", 730, 1027, 15.3, "#f050b0"], ["syndrome", 640, 1083, 53, "#1a98d8"],
  ["corticotropin", 477, 1120, 14.8, "#f850b8"], ["apoptosis", 627, 1130, 14.4, "#40e0a0"], ["cancer", 741, 1147, 29.5, "#1e1e50"],
  ["brain", 487, 1173, 14.6, "#b090e8"], ["hormone", 610, 1167, 27.7, "#a070d8"], ["disease", 605, 1215, 52.8, "#1a98d8"],
  ["homeostasis", 618, 1260, 15.2, "#40e0a0"]
];
const gammaWords = [
  ["receptor", 1371, 908, 23, "#90f840"], ["axon", 1284, 963, 16.5, "#50e8c0"], ["cancer", 1452, 964, 28, "#1e1e50"],
  ["tnf", 1336, 992, 22.7, "#30a8e0"], ["infection", 1229, 1025, 20.6, "#e060a8"], ["chemokine", 1440, 1025, 20.5, "#b8a0e0"],
  ["virus", 1335, 1042, 17, "#f050b0"], ["signaling", 1399, 1083, 74.5, "#0a94d0"], ["hormone", 1251, 1140, 20.3, "#7050a0"],
  ["disease", 1447, 1143, 29.6, "#30a0d8"], ["prolactin", 1331, 1163, 15.8, "#7050a0"], ["diabetes", 1448, 1173, 16.2, "#f050b0"],
  ["resistance", 1264, 1194, 16.3, "#60d8a8"], ["mellitus", 1496, 1201, 15.5, "#f050b0"], ["endocrine", 1387, 1209, 16, "#7050a0"],
  ["interleukin", 1377, 1252, 23, "#30a0d8"]
];
// the three word circles and the triangle that joins them
const circleCentres = [[996.5, 511.5], [604, 1081.5], [1378, 1081.5]];
const triangleCorners = [[997, 742], [833, 1081], [1148, 1081]];
const triangleLinks = [
  { source: 0, target: 1, lineStyle: { width: 8 } },
  { source: 0, target: 2, lineStyle: { width: 3 } },
  { source: 1, target: 2, lineStyle: { width: 7 } }
];

const textFont = "Liberation Sans";
const grey = "#a0a0a0";
const pink = "#d09090";

function boxSeries(gridIndex, positions, stats, boxWidth, capWidth) {
  return {
    type: "custom",
    xAxisIndex: gridIndex,
    yAxisIndex: gridIndex,
    z: 2,
    clip: false,
    silent: true,
    data: stats.map((s, i) => [positions[i], ...s, i % 2]),
    renderItem: (params, api) => {
      const x = api.value(0);
      const low = api.coord([x, api.value(1)]);
      const q1 = api.coord([x, api.value(2)]);
      const med = api.coord([x, api.value(3)]);
      const q3 = api.coord([x, api.value(4)]);
      const up = api.coord([x, api.value(5)]);
      const half = api.size([boxWidth, 0])[0] / 2;
      const cap = api.size([capWidth, 0])[0] / 2;
      const fill = api.value(6) ? pink : grey;
      return {
        type: "group",
        children: [
          { type: "line", shape: { x1: up[0], y1: up[1], x2: low[0], y2: low[1] }, style: { stroke: "#666", lineWidth: 4, lineDash: [4, 8] } },
          { type: "line", shape: { x1: up[0] - cap, y1: up[1], x2: up[0] + cap, y2: up[1] }, style: { stroke: "#333", lineWidth: 4 } },
          { type: "line", shape: { x1: low[0] - cap, y1: low[1], x2: low[0] + cap, y2: low[1] }, style: { stroke: "#333", lineWidth: 4 } },
          { type: "rect", shape: { x: q3[0] - half, y: q3[1], width: half * 2, height: q1[1] - q3[1] }, style: { fill: fill, stroke: "#4a4a4a", lineWidth: 4 } },
          { type: "line", shape: { x1: med[0] - half, y1: med[1], x2: med[0] + half, y2: med[1] }, style: { stroke: "#000", lineWidth: 8 } }
        ]
      };
    }
  };
}

function zeroBarSeries(gridIndex, positions, boxWidth) {
  return {
    type: "custom",
    xAxisIndex: gridIndex,
    yAxisIndex: gridIndex,
    z: 4,
    clip: false,
    silent: true,
    data: positions.map((p) => [p, 0.05]),
    renderItem: (params, api) => {
      const c = api.coord([api.value(0), api.value(1)]);
      const half = api.size([boxWidth, 0])[0] / 2;
      return { type: "line", shape: { x1: c[0] - half, y1: c[1], x2: c[0] + half, y2: c[1] }, style: { stroke: "#000", lineWidth: 6 } };
    }
  };
}

function bracketSeries(gridIndex, brackets) {
  return {
    type: "custom",
    xAxisIndex: gridIndex,
    yAxisIndex: gridIndex,
    z: 5,
    clip: false,
    silent: true,
    data: brackets,
    renderItem: (params, api) => {
      const xL = api.value(0);
      const xR = api.value(1);
      const top = api.value(2);
      const star = api.coord([(xL + xR) / 2, api.value(5)]);
      const pts = [[xL, api.value(3)], [xL, top], [xR, top], [xR, api.value(4)]].map((p) => api.coord(p));
      return {
        type: "group",
        children: [
          { type: "polyline", shape: { points: pts }, style: { fill: "none", stroke: "#555", lineWidth: 3.5 } },
          { type: "text", x: star[0], y: star[1] + 14, style: { text: "*", fontFamily: textFont, fontSize: 60, fill: "#333", textAlign: "center", textVerticalAlign: "middle" } }
        ]
      };
    }
  };
}

function dotSeries(gridIndex, positions, dots, spread, extra) {
  const data = extra ? extra.slice() : [];
  dots.forEach((values, b) => {
    values.forEach((v, i) => {
      if (Array.isArray(v)) {
        data.push([positions[b] + (v[0] / 15) * spread, v[1]]);
      } else {
        data.push([positions[b] + jitter[(i + b * 5) % jitter.length] * spread, v]);
      }
    });
  });
  return {
    type: "scatter",
    xAxisIndex: gridIndex,
    yAxisIndex: gridIndex,
    z: 3,
    clip: false,
    silent: true,
    symbolSize: 7,
    itemStyle: { color: "#000" },
    data: data
  };
}

function xAxisFor(gridIndex, min, max, ticks, tissues, counts) {
  return {
    type: "value",
    gridIndex: gridIndex,
    min: min,
    max: max,
    splitLine: { show: false },
    axisLine: { onZero: false, lineStyle: { color: "#333", width: 5 } },
    axisTick: { length: 36, customValues: ticks, lineStyle: { color: "#555", width: 3 } },
    axisLabel: {
      customValues: ticks,
      margin: 51,
      formatter: (v) => {
        const i = ticks.indexOf(v);
        return "{a|" + tissues[i] + "}\n{b|" + counts[i] + "}";
      },
      rich: {
        a: { fontFamily: textFont, fontSize: 48, color: "#333", lineHeight: 56 },
        b: { fontFamily: textFont, fontSize: 41, color: "#333", lineHeight: 56 }
      }
    },
    name: "Tissue",
    nameLocation: "middle",
    nameGap: 212,
    nameTextStyle: { fontFamily: textFont, fontSize: 70, fontWeight: "bold", color: "#111", padding: [0, 94, 0, 0] }
  };
}

function yAxisFor(gridIndex, max, nameGap, labels) {
  const axis = {
    type: "value",
    gridIndex: gridIndex,
    min: 0,
    max: max,
    interval: 2,
    splitLine: { show: false },
    axisLine: { show: true, onZero: false, lineStyle: { color: "#333", width: 4 } },
    axisTick: { show: true, length: 36, lineStyle: { color: "#333", width: 4 } },
    axisLabel: { fontFamily: textFont, fontSize: 48, color: "#333", margin: 44 },
    name: "{a|log}{b|2}{a| (TPM+1)}",
    nameLocation: "middle",
    nameGap: nameGap,
    nameRotate: 90,
    nameTextStyle: {
      rich: {
        a: { fontFamily: textFont, fontSize: 70, fontWeight: "bold", color: "#111", lineHeight: 90 },
        b: { fontFamily: textFont, fontSize: 46, fontWeight: "bold", color: "#111", lineHeight: 90, padding: [34, 0, 0, 0] }
      }
    }
  };
  if (labels) {
    axis.axisTick.customValues = labels.at;
    axis.axisLabel.customValues = labels.at;
    axis.axisLabel.formatter = (v) => labels.text[labels.at.indexOf(v)];
  }
  return axis;
}

// panel D: the top tick of the source axis sits closer to 10 than the even spacing would put it
const dTickAt = [0, 2, 4, 6, 8, 10, 11.64];
const dTickText = ["0", "2", "4", "6", "8", "10", "12"];

function wordGraphics(words) {
  return words.map((w) => ({
    type: "text",
    x: w[1],
    y: w[2],
    z: 20,
    style: { text: w[0], fontFamily: "Noto Sans", fontSize: w[3], fill: w[4], textAlign: "center", textVerticalAlign: "middle" }
  }));
}

function panelLetter(text, x, y) {
  return { type: "text", x: x, y: y, z: 20, style: { text: text, fontFamily: textFont, fontWeight: "bold", fontSize: 134, fill: "#000", textVerticalAlign: "middle" } };
}

function isoformLabel(greek, x, y) {
  return {
    type: "text",
    x: x,
    y: y,
    z: 20,
    style: {
      text: "{g|" + greek + "}{s|S}",
      textAlign: "center",
      textVerticalAlign: "middle",
      rich: {
        g: { fontFamily: "Liberation Serif", fontWeight: "bold", fontSize: 88, fill: "#111" },
        s: { fontFamily: textFont, fontWeight: "bold", fontSize: 80, fill: "#111" }
      }
    }
  };
}

const option = {
  backgroundColor: "#fff",
  animation: false,
  grid: [
    { left: 2254, top: 330, width: 1764, height: 708, outerBoundsMode: "none" },
    { left: 521.5, top: 1801, width: 966, height: 709, outerBoundsMode: "none" },
    { left: 2254, top: 1800, width: 1764, height: 708, outerBoundsMode: "none" },
    { left: 0, top: 0, width: 1800, height: 1500, outerBoundsMode: "none" }
  ],
  xAxis: [
    xAxisFor(0, 0.353, 4.614, bTicks, bTissues, bCounts),
    xAxisFor(1, 0.356, 2.681, cTicks, cTissues, cCounts),
    xAxisFor(2, 0.29, 4.7, dTicks, dTissues, dCounts),
    { type: "value", gridIndex: 3, min: 0, max: 1800, show: false }
  ],
  yAxis: [
    yAxisFor(0, 10, 118),
    yAxisFor(1, 10, 138),
    yAxisFor(2, 11.64, 118, { at: dTickAt, text: dTickText }),
    { type: "value", gridIndex: 3, min: 0, max: 1500, inverse: true, show: false }
  ],
  series: [
    {
      type: "graph",
      coordinateSystem: "cartesian2d",
      xAxisIndex: 3,
      yAxisIndex: 3,
      z: 1,
      silent: true,
      symbolSize: 1,
      itemStyle: { color: "#ddd" },
      lineStyle: { color: "#dcdcdc", opacity: 1 },
      data: triangleCorners,
      links: triangleLinks
    },
    {
      type: "scatter",
      xAxisIndex: 3,
      yAxisIndex: 3,
      z: 2,
      silent: true,
      symbolSize: 458,
      itemStyle: { color: "#fff", borderColor: "#c8c8c8", borderWidth: 4 },
      data: circleCentres
    },
    boxSeries(0, bBoxPos, bStats, 0.27, 0.143),
    zeroBarSeries(0, bZeroBars, 0.27),
    dotSeries(0, bBoxPos, bDots, 0.037),
    bracketSeries(0, bBrackets),
    boxSeries(1, cBoxPos, cStats, 0.274, 0.143),
    zeroBarSeries(1, cZeroBars, 0.274),
    dotSeries(1, cBoxPos, cDots, 0.037),
    bracketSeries(1, cBrackets),
    boxSeries(2, dBoxPos, dStats, 0.268, 0.148),
    zeroBarSeries(2, dZeroBars, 0.268),
    dotSeries(2, dBoxPos, dDots, 0.038, dFarDot),
    bracketSeries(2, dBrackets)
  ],
  graphic: {
    elements: [
      panelLetter("A", 41, 120),
      panelLetter("B", 1850, 120),
      panelLetter("C", 60, 1648),
      panelLetter("D", 1850, 1648),
      isoformLabel("α", 987, 208),
      isoformLabel("β", 608, 1388),
      isoformLabel("γ", 1375, 1388),
      ...wordGraphics(alphaWords),
      ...wordGraphics(betaWords),
      ...wordGraphics(gammaWords)
    ]
  }
};

const chart = echarts.init(document.getElementById("chart"));
chart.setOption(option);
</script>
</body>
</html>
